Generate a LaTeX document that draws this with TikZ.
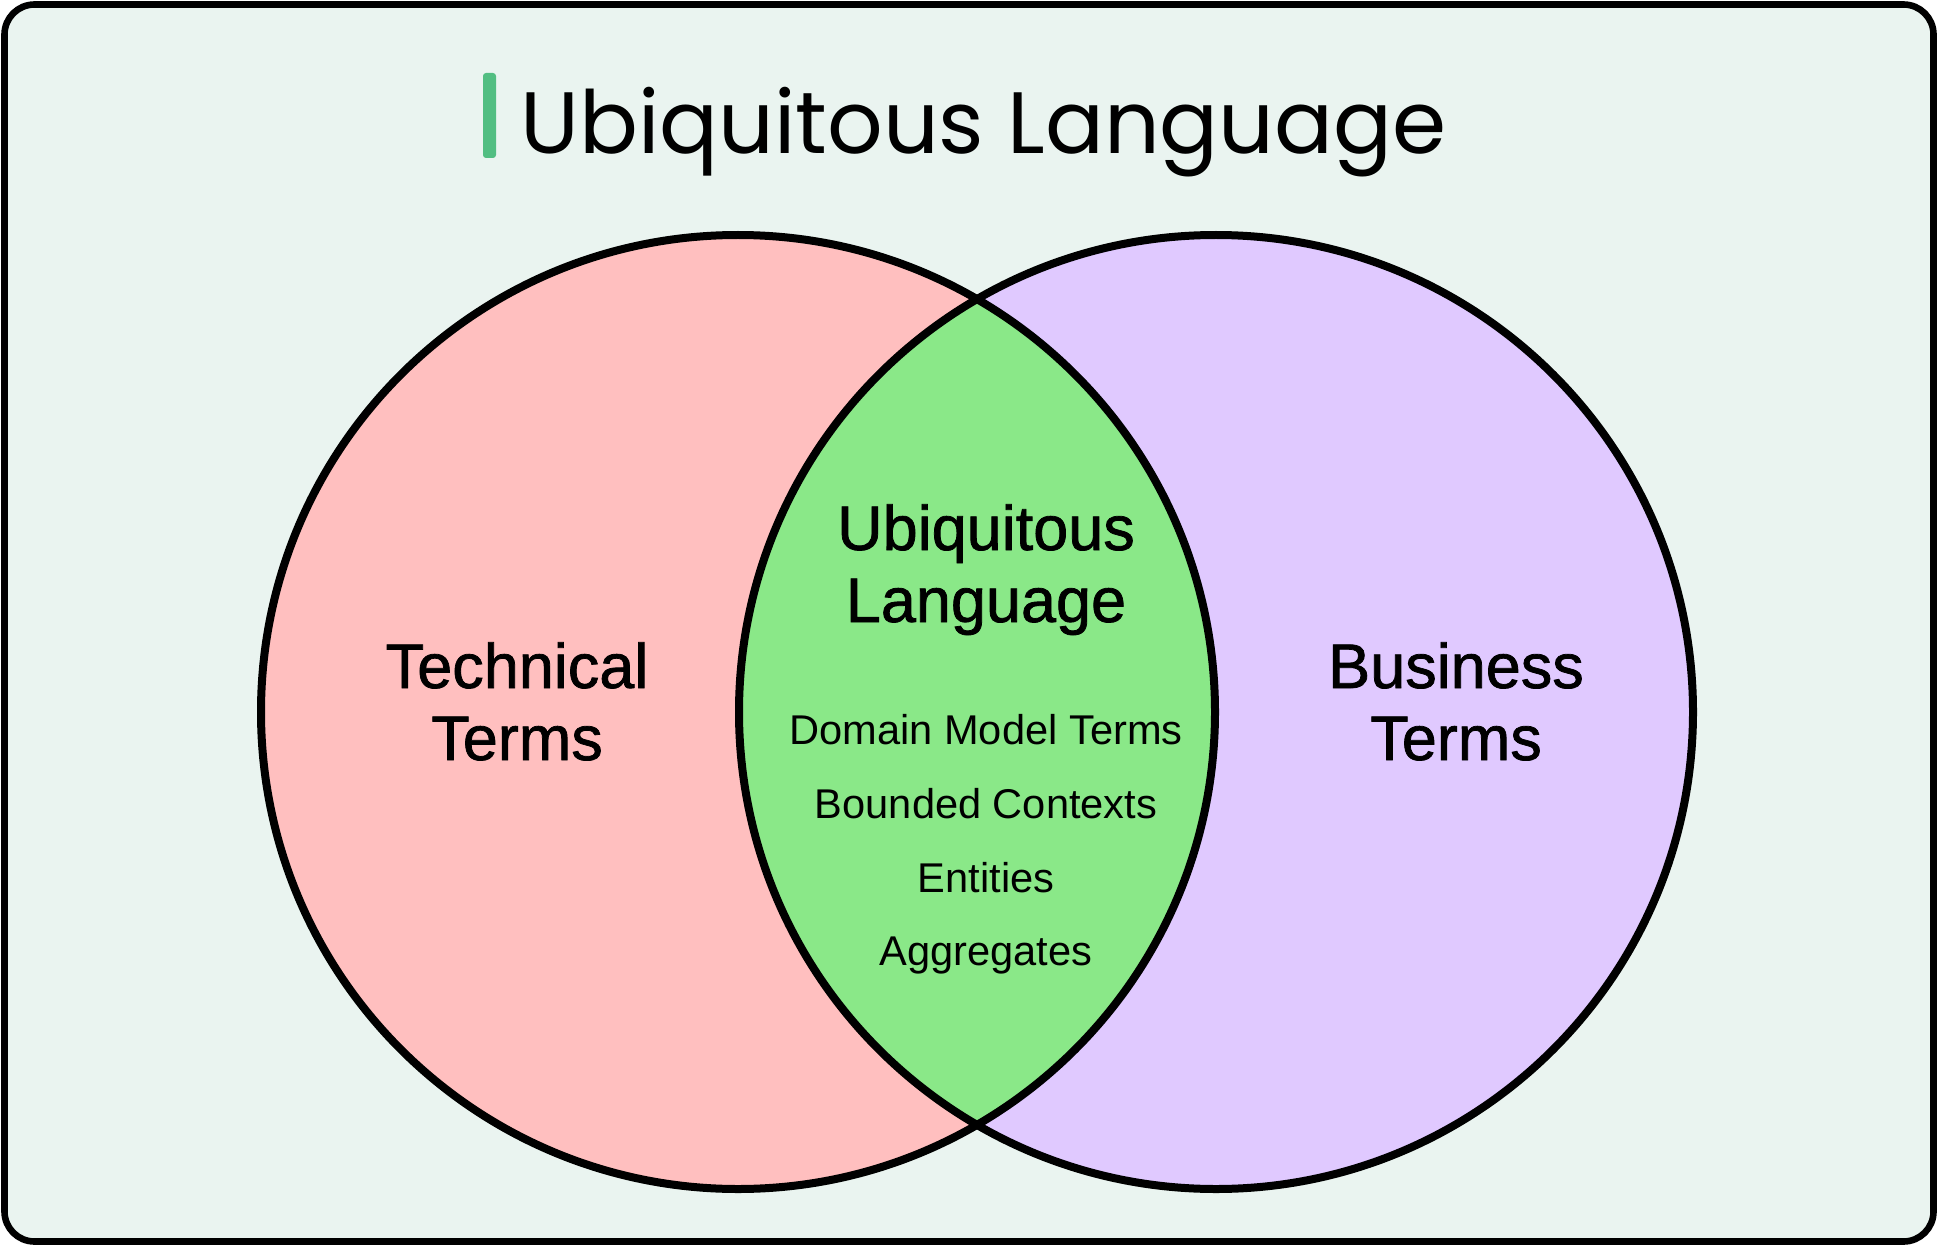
\documentclass[tikz,border=0pt]{standalone}
\usepackage{fontspec}
\setmainfont{Liberation Sans}
\newfontfamily\titlefont{Poppins}
\newfontfamily\labelfont[FakeBold=1.2]{Liberation Sans}
\definecolor{bgmint}{HTML}{EAF4F0}
\definecolor{techpink}{HTML}{FFBFBF}
\definecolor{buslav}{HTML}{E0C9FF}
\definecolor{lensgreen}{HTML}{8AE888}
\definecolor{accentgreen}{HTML}{52BE82}
\tikzset{
  frame/.style={draw=black, line width=3.3pt, fill=bgmint, rounded corners=15pt},
  ring/.style={draw=black, line width=4pt},
  biglabel/.style={anchor=base, inner sep=0pt, font=\labelfont\fontsize{31.5pt}{36pt}\selectfont},
  smalllabel/.style={anchor=base, inner sep=0pt, font=\fontsize{20.8pt}{24pt}\selectfont},
}
\begin{document}
\begin{tikzpicture}[x=0.5pt,y=-0.5pt]
\useasboundingbox (0,0) rectangle (1938,1246);
\draw[frame] (4.5,4.5) rectangle (1933.5,1241.5);
% title
\fill[accentgreen, rounded corners=1.5pt] (483,73) rectangle (496,158);
\node[anchor=base west, inner sep=0pt] (title) at (520,154)
  {\resizebox{463pt}{!}{\titlefont\fontsize{45pt}{50pt}\selectfont Ubiquitous Language}};
% circles
\coordinate (lc) at (738,712);
\coordinate (rc) at (1216,712);
\fill[techpink] (lc) circle (477);
\fill[buslav] (rc) circle (477);
\begin{scope}
  \clip (lc) circle (477);
  \fill[lensgreen] (rc) circle (477);
\end{scope}
\draw[ring] (lc) circle (477);
\draw[ring] (rc) circle (477);
% labels
\node[biglabel] (tech1) at (517,688) {Technical};
\node[biglabel] (tech2) at (517,760) {Terms};
\node[biglabel] (bus1) at (1456,688) {Business};
\node[biglabel] (bus2) at (1456,760) {Terms};
\node[biglabel] (ul1) at (986,550) {Ubiquitous};
\node[biglabel] (ul2) at (986,622) {Language};
\node[smalllabel] (it1) at (986,744) {Domain Model Terms};
\node[smalllabel] (it2) at (986,818) {Bounded Contexts};
\node[smalllabel] (it3) at (986,892) {Entities};
\node[smalllabel] (it4) at (986,965) {Aggregates};
\end{tikzpicture}
\end{document}
